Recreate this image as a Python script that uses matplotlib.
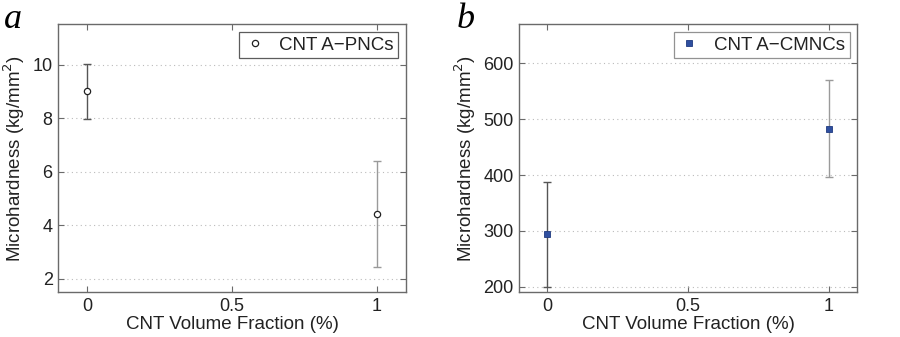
import matplotlib
matplotlib.use("Agg")
import matplotlib.pyplot as plt

plt.rcParams['font.family'] = ['Liberation Sans', 'DejaVu Sans']

# Data
x_vals = [0, 1]
pnc_hardness = [9.0, 4.42]
pnc_err = [1.02, 1.97]
cmnc_hardness = [294, 483]
cmnc_err = [94, 87]

x_ticks = [0, 0.5, 1]
x_ticklabels = ['0', '0.5', '1']
pnc_yticks = [2, 4, 6, 8, 10]
cmnc_yticks = [200, 300, 400, 500, 600]

fig = plt.figure(figsize=(9, 3.37), dpi=100)
W, H = 900, 337

def make_ax(l, r, t, b):
    return fig.add_axes([l / W, 1 - b / H, (r - l) / W, (b - t) / H])

axa = make_ax(58.3, 405.7, 24.3, 292.3)
axb = make_ax(519.3, 857, 24.3, 292.3)

spine_col = '#6a6a6a'
err_cols = ['#555555', '#9a9a9a']
FS = 13.5

def style(ax, yticks, ylim):
    ax.set_xlim(-0.1, 1.1)
    ax.set_ylim(*ylim)
    ax.set_xticks(x_ticks)
    ax.set_xticklabels(x_ticklabels)
    ax.set_yticks(yticks)
    for s in ax.spines.values():
        s.set_color(spine_col)
        s.set_linewidth(1.0)
    ax.tick_params(direction='in', length=4, width=0.8, color=spine_col,
                   top=True, right=True, labelsize=13, labelcolor='#222222', pad=4)
    ax.yaxis.grid(True, linestyle=(0, (1, 3)), color='#bbbbbb', linewidth=0.8)
    ax.set_axisbelow(True)
    ax.set_xlabel('CNT Volume Fraction (%)', fontsize=FS, color='#222222', labelpad=1)
    ax.set_ylabel('Microhardness (kg/mm$^2$)', fontsize=FS, color='#222222', labelpad=4)

style(axa, pnc_yticks, (1.5, 11.5))
style(axb, cmnc_yticks, (190, 670))

for i in range(2):
    axa.errorbar(x_vals[i], pnc_hardness[i], yerr=pnc_err[i], fmt='none',
                 ecolor=err_cols[i], elinewidth=1.0, capsize=3, capthick=1.0, zorder=3)
    axb.errorbar(x_vals[i], cmnc_hardness[i], yerr=cmnc_err[i], fmt='none',
                 ecolor=err_cols[i], elinewidth=1.0, capsize=3, capthick=1.0, zorder=3)

axa.plot(x_vals, pnc_hardness, linestyle='none', marker='o', markersize=4.5,
         markerfacecolor='white', markeredgecolor='#222222', markeredgewidth=0.9,
         label='CNT A\u2212PNCs', zorder=4)
axb.plot(x_vals, cmnc_hardness, linestyle='none', marker='s', markersize=4,
         markerfacecolor='#2f4f9f', markeredgecolor='#1f3a80', markeredgewidth=0.6,
         label='CNT A\u2212CMNCs', zorder=4)

for ax, ec in ((axa, '#333333'), (axb, '#777777')):
    leg = ax.legend(loc='upper right', fontsize=FS, frameon=True, fancybox=False,
                    borderpad=0.25, handlelength=1.2, handletextpad=0.7,
                    borderaxespad=0.4, numpoints=1)
    leg.get_frame().set_edgecolor(ec)
    leg.get_frame().set_linewidth(0.9)
    for t in leg.get_texts():
        t.set_color('#222222')

fig.text(4 / W, 1 - 28 / H, 'a', fontsize=26, style='italic',
         family='Liberation Serif', va='baseline', ha='left')
fig.text(457 / W, 1 - 28 / H, 'b', fontsize=26, style='italic',
         family='Liberation Serif', va='baseline', ha='left')

fig.savefig('out.png', dpi=100, facecolor='white')
